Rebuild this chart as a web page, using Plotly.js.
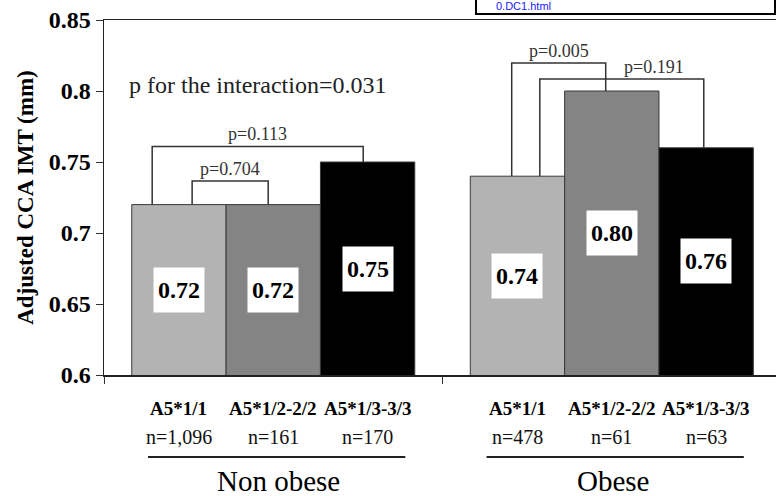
<!DOCTYPE html>
<html>
<head>
<meta charset="utf-8">
<script src="https://cdn.plot.ly/plotly-3.0.1.min.js"></script>
<style>html,body{margin:0;padding:0;background:#fff;}#chart{width:776px;height:496px;}</style>
</head>
<body>
<div id="chart"></div>
<script>
// ---- data ----
var groups = ["Non obese", "Obese"];
var genotypes = ["A5*1/1", "A5*1/2-2/2", "A5*1/3-3/3"];
var imtA11 = [0.72, 0.74];
var imtA12 = [0.72, 0.80];
var imtA13 = [0.75, 0.76];
var nA11 = ["n=1,096", "n=478"];
var nA12 = ["n=161", "n=61"];
var nA13 = ["n=170", "n=63"];
var pInteraction = "p for the interaction=0.031";
// comparisons: group index, bar from, bar to, p-value label, bracket top (mm)
var cmpGroup = [0, 0, 1, 1];
var cmpFrom = [0, 0, 0, 0];
var cmpTo = [2, 1, 1, 2];
var cmpLabel = ["p=0.113", "p=0.704", "p=0.005", "p=0.191"];
var cmpTop = [0.761, 0.7366, 0.8197, 0.8085];

// ---- styling / layout helpers ----
var serif = "Liberation Serif";
var colors = ["#b3b3b3", "#848484", "#000000"];
var bargap = 0.164;
var xr = [-0.5, 1.485];
var yr = [0.6, 0.85];
var bw = (1 - bargap) / 3;
var series = [imtA11, imtA12, imtA13];
var nser = [nA11, nA12, nA13];
function barX(g, k) { return g + (k - 1) * bw; }
function toPaperX(x) { return (x - xr[0]) / (xr[1] - xr[0]); }

var traces = series.map(function (vals, k) {
  return {
    type: "bar", name: genotypes[k], x: groups, y: vals,
    marker: { color: colors[k], line: { color: "#3a3a3a", width: 1 } },
    hoverinfo: "skip", showlegend: false
  };
});

var annotations = [];
var shapes = [];

// value labels in white boxes
series.forEach(function (vals, k) {
  vals.forEach(function (v, g) {
    annotations.push({
      x: barX(g, k), y: (yr[0] + v) / 2, xref: "x", yref: "y",
      xanchor: "center", yanchor: "middle",
      text: v.toFixed(2), showarrow: false,
      bgcolor: "#ffffff", width: 48, height: 42,
      font: { family: serif, size: 24, color: "#000", weight: "bold" }
    });
    annotations.push({
      x: barX(g, k), y: 0, xref: "x", yref: "paper", xanchor: "center", yanchor: "middle",
      yshift: -33, text: genotypes[k], showarrow: false,
      font: { family: serif, size: 19, color: "#000", weight: "bold" }
    });
    annotations.push({
      x: barX(g, k), y: 0, xref: "x", yref: "paper", xanchor: "center", yanchor: "middle",
      yshift: -62, text: nser[k][g], showarrow: false,
      font: { family: serif, size: 20, color: "#111" }
    });
  });
});

// group names and underline
var ylinePaper = -82 / 355;
var groupNameShift = [5, 1];
groups.forEach(function (name, g) {
  annotations.push({
    x: g, y: 0, xref: "x", yref: "paper", xanchor: "center", yanchor: "middle",
    xshift: groupNameShift[g], yshift: -106, text: name, showarrow: false,
    font: { family: serif, size: 29, color: "#000" }
  });
  shapes.push({
    type: "line", xref: "paper", yref: "paper",
    x0: toPaperX(g - 0.37), x1: toPaperX(g + 0.39), y0: ylinePaper, y1: ylinePaper,
    line: { color: "#222", width: 2 }
  });
});

// comparison brackets
var legOffFrom = [-0.079, 0.039, -0.017, 0.066];
var legOffTo = [-0.013, -0.015, -0.018, -0.007];
var labelShift = [0, 0, 0, 32];
cmpGroup.forEach(function (g, i) {
  var xa = barX(g, cmpFrom[i]) + legOffFrom[i];
  var xb = barX(g, cmpTo[i]) + legOffTo[i];
  var ya = series[cmpFrom[i]][g];
  var yb = series[cmpTo[i]][g];
  var t = cmpTop[i];
  shapes.push({
    type: "path", xref: "x", yref: "y",
    path: "M" + xa + "," + ya + " L" + xa + "," + t + " L" + xb + "," + t + " L" + xb + "," + yb,
    line: { color: "#333", width: 1.5 }
  });
  annotations.push({
    x: (xa + xb) / 2, y: t, xref: "x", yref: "y", xanchor: "center", yanchor: "bottom",
    xshift: labelShift[i], yshift: 0, text: cmpLabel[i], showarrow: false,
    font: { family: serif, size: 18, color: "#333" }
  });
});

// interaction p
annotations.push({
  x: toPaperX(-0.046), y: 0.8, xref: "paper", yref: "y", xanchor: "center", yanchor: "middle",
  yshift: 6, text: pInteraction, showarrow: false,
  font: { family: serif, size: 24, color: "#222" }
});

// link box at top right of the page
shapes.push({
  type: "rect", xref: "paper", yref: "paper",
  x0: (476 - 104) / 672, x1: (775 - 104) / 672, y0: (375 - 14) / 355, y1: 1.2,
  line: { color: "#000", width: 2 }, fillcolor: "rgba(0,0,0,0)"
});
annotations.push({
  x: (494 - 104) / 672, y: (375 - 6) / 355, xref: "paper", yref: "paper",
  xanchor: "left", yanchor: "middle", text: "0.DC1.html", showarrow: false,
  font: { family: "Liberation Sans", size: 11, color: "#1a1aff" }
});

var layout = {
  width: 776, height: 496,
  margin: { l: 104, r: 0, t: 20, b: 121 },
  paper_bgcolor: "#fff", plot_bgcolor: "#fff",
  barmode: "group", bargap: bargap, bargroupgap: 0,
  showlegend: false,
  xaxis: {
    type: "category", categoryorder: "array", categoryarray: groups,
    range: xr, showticklabels: false, ticks: "outside", tickson: "boundaries",
    ticklen: 7, tickcolor: "#333", showline: true, linecolor: "#222", linewidth: 1.5,
    mirror: true, showgrid: false, zeroline: false, fixedrange: true
  },
  yaxis: {
    range: yr, tickvals: [0.6, 0.65, 0.7, 0.75, 0.8, 0.85],
    ticktext: ["0.6", "0.65", "0.7", "0.75", "0.8", "0.85"],
    ticks: "outside", ticklen: 7, tickcolor: "#333",
    showline: true, linecolor: "#222", linewidth: 1.5,
    showgrid: false, zeroline: false,
    tickfont: { family: serif, size: 24, color: "#000", weight: "bold" },
    title: { text: "Adjusted CCA IMT (mm)", standoff: 8,
      font: { family: serif, size: 23, color: "#000", weight: "bold" } },
    fixedrange: true
  },
  shapes: shapes,
  annotations: annotations
};

Plotly.newPlot("chart", traces, layout, { displayModeBar: false, staticPlot: true });
</script>
</body>
</html>
